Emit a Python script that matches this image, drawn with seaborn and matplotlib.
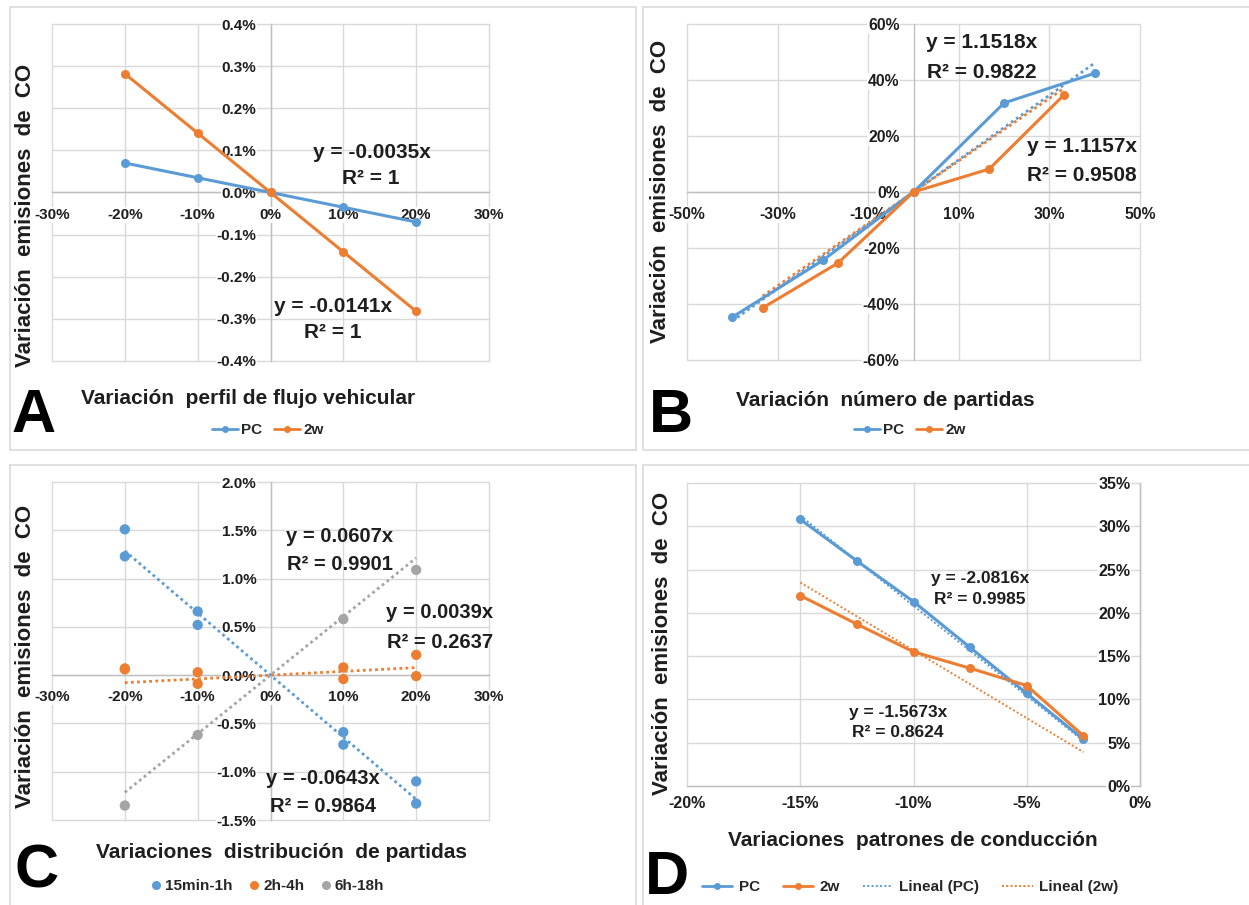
import matplotlib
matplotlib.use("Agg")
import numpy as np
import pandas as pd
import seaborn as sns
import matplotlib.pyplot as plt
from matplotlib.lines import Line2D
from matplotlib.patches import Rectangle

# ---------------- data ----------------
# A: variation of the vehicle flow profile
flujo_x = [-20, -10, 0, 10, 20]
flujo_pc = [0.070, 0.035, 0.0, -0.035, -0.070]
flujo_2w = [0.282, 0.141, 0.0, -0.141, -0.282]
flujo_eq = ["y = -0.0035x", "y = -0.0141x"]
flujo_r2 = ["R² = 1", "R² = 1"]

# B: variation of the number of trips
partidas_x_pc = [-40, -20, 0, 20, 40]
partidas_pc = [-44.7, -24.4, 0.0, 31.8, 42.4]
partidas_x_2w = [-33.3, -16.7, 0, 16.7, 33.3]
partidas_2w = [-41.4, -25.4, 0.0, 8.2, 34.8]
partidas_slopes = [1.1518, 1.1157]
partidas_r2 = [0.9822, 0.9508]

# C: variation of the trip distribution (two runs per group)
dist_x = [-20, -10, 10, 20]
dist_15min_a = [1.51, 0.66, -0.59, -1.10]
dist_15min_b = [1.23, 0.52, -0.72, -1.33]
dist_2h_a = [0.07, 0.03, 0.08, 0.21]
dist_2h_b = [0.06, -0.09, -0.04, -0.01]
dist_6h_a = [-1.35, -0.62, 0.58, 1.09]
dist_groups = ["15min-1h", "2h-4h", "6h-18h"]
dist_slopes = [-0.0643, 0.0039, 0.0607]
dist_r2 = [0.9864, 0.2637, 0.9901]

# D: variation of driving patterns
cond_x = [-15, -12.5, -10, -7.5, -5, -2.5]
cond_pc = [30.8, 26.0, 21.3, 16.0, 10.7, 5.4]
cond_2w = [22.0, 18.7, 15.5, 13.6, 11.6, 5.8]
cond_slopes = [-2.0816, -1.5673]
cond_r2 = [0.9985, 0.8624]

series_names = ["PC", "2w"]
y_title = "Variación  emisiones  de  CO"

# ---------------- style ----------------
W, H = 1249, 905
sns.set_theme(style="white")
plt.rcParams["font.family"] = ["Liberation Sans", "DejaVu Sans"]
plt.rcParams["font.weight"] = "bold"

BLUE, ORANGE, GRAY = "#5B9BD5", "#ED7D31", "#A5A5A5"
GRID, AXIS, INK = "#D9D9D9", "#BFBFBF", "#1E1E1E"
TITLE_FS, YTITLE_FS, LETTER_FS = 15, 16, 44

fig = plt.figure(figsize=(W / 100, H / 100), dpi=100)
fig.patch.set_facecolor("white")


def fx(x):
    return x / W


def fy(y):
    return 1 - y / H


def add_axes(x0, x1, y0, y1):
    return fig.add_axes([fx(x0), fy(y1), (x1 - x0) / W, (y1 - y0) / H])


def panel_frame(x0, y0, x1, y1):
    fig.patches.append(Rectangle((fx(x0), fy(y1)), (x1 - x0) / W, (y1 - y0) / H,
                                 transform=fig.transFigure, fill=False,
                                 edgecolor="#DADADA", lw=1.2, zorder=0))


def style_axes(ax, xlim, ylim, xticks, yticks, xfmt, yfmt, xpad, ypad, size):
    ax.set_xlim(xlim)
    ax.set_ylim(ylim)
    ax.grid(False)
    ax.set_xlabel("")
    ax.set_ylabel("")
    for v in yticks:
        ax.axhline(v, color=GRID, lw=1, zorder=0.2, clip_on=False)
    for v in xticks:
        ax.axvline(v, color=GRID, lw=1, zorder=0.2, clip_on=False)
    ax.set_axisbelow(True)
    for s in ["top", "right"]:
        ax.spines[s].set_visible(False)
    ax.spines["left"].set_position(("data", 0))
    ax.spines["bottom"].set_position(("data", 0))
    for s in ["left", "bottom"]:
        ax.spines[s].set_color(AXIS)
        ax.spines[s].set_linewidth(1)
        ax.spines[s].set_zorder(0.3)
    ax.set_xticks(xticks)
    ax.set_yticks(yticks)
    ax.set_xticklabels([xfmt(v) for v in xticks])
    ax.set_yticklabels([yfmt(v) for v in yticks])
    ax.tick_params(length=0, labelsize=size, labelcolor=INK)
    ax.tick_params(axis="x", pad=xpad)
    ax.tick_params(axis="y", pad=ypad)
    for lab in ax.get_xticklabels() + ax.get_yticklabels():
        lab.set_fontweight("bold")
        lab.set_bbox(dict(facecolor="white", edgecolor="none", pad=0.6))
    ax.patch.set_alpha(0)


def ftext(x, y, s, size, color=INK, **kw):
    fig.text(fx(x), fy(y), s, fontsize=size, fontweight="bold", color=color,
             ha="center", va="center", **kw)


def line_handle(color):
    return Line2D([], [], color=color, lw=2, marker="o", markersize=5,
                  markeredgewidth=0)


def series_frame(xa, ya, xb, yb):
    return pd.DataFrame({
        "x": list(xa) + list(xb),
        "y": list(ya) + list(yb),
        "serie": [series_names[0]] * len(xa) + [series_names[1]] * len(xb),
    })


def legend(ax, handles, labels, cx, cy, **kw):
    opts = dict(handlelength=1.7, handletextpad=0.2, columnspacing=0.8)
    opts.update(kw)
    ax.legend(handles, labels, loc="center", bbox_to_anchor=(fx(cx), fy(cy)),
              bbox_transform=fig.transFigure, ncol=len(labels), frameon=False,
              borderaxespad=0, prop=dict(weight="bold", size=11), **opts)


line_kw = dict(hue="serie", palette=[BLUE, ORANGE], marker="o", markersize=6.5,
               markeredgewidth=0, linewidth=2.2, legend=False, sort=False,
               estimator=None, zorder=3)

pct0 = lambda v: f"{v + 0:.0f}%"
pct1 = lambda v: f"{v + 0:.1f}%"
dotted = (0, (1, 1.2))

# ---------------- panel frames ----------------
panel_frame(10, 7, 636, 450)
panel_frame(643, 7, 1260, 450)
panel_frame(10, 465, 636, 915)
panel_frame(643, 465, 1260, 915)

# ---------------- A ----------------
axA = add_axes(52, 489, 24, 361)
dfA = series_frame(flujo_x, flujo_pc, flujo_x, flujo_2w)
sns.lineplot(data=dfA, x="x", y="y", ax=axA, **line_kw)
style_axes(axA, (-30, 30), (-0.4, 0.4), np.arange(-30, 31, 10),
           np.round(np.arange(-0.4, 0.41, 0.1), 1), pct0, pct1,
           xpad=11, ypad=10, size=11)
ftext(372, 152, flujo_eq[0], 15)
ftext(371, 179, flujo_r2[0], 15)
ftext(333, 307, flujo_eq[1], 15)
ftext(333, 333, flujo_r2[1], 15)
ftext(248, 398, "Variación  perfil de flujo vehicular", TITLE_FS)
ftext(26, 215, y_title, YTITLE_FS, rotation=90)
ftext(34, 416, "A", LETTER_FS, color="black")
legend(axA, [line_handle(BLUE), line_handle(ORANGE)], series_names, 268, 430)

# ---------------- B ----------------
axB = add_axes(687, 1140, 24, 360)
dfB = series_frame(partidas_x_pc, partidas_pc, partidas_x_2w, partidas_2w)
sns.lineplot(data=dfB, x="x", y="y", ax=axB, **line_kw)
for xs, k, c in [(partidas_x_pc, partidas_slopes[0], BLUE),
                 (partidas_x_2w, partidas_slopes[1], ORANGE)]:
    xr = np.array([min(xs), max(xs)])
    axB.plot(xr, k * xr, ls=dotted, color=c, lw=2, zorder=2.8)
style_axes(axB, (-50, 50), (-60, 60), np.arange(-50, 51, 20),
           np.arange(-60, 61, 20), pct0, pct0, xpad=11, ypad=10, size=11.3)
ftext(982, 43, f"y = {partidas_slopes[0]:.4f}x", 15)
ftext(982, 72, f"R² = {partidas_r2[0]:.4f}", 15)
ftext(1082, 147, f"y = {partidas_slopes[1]:.4f}x", 15)
ftext(1082, 175, f"R² = {partidas_r2[1]:.4f}", 15)
ftext(885, 400, "Variación  número de partidas", TITLE_FS)
ftext(660, 191, y_title, YTITLE_FS, rotation=90)
ftext(671, 416, "B", LETTER_FS, color="black")
legend(axB, [line_handle(BLUE), line_handle(ORANGE)], series_names, 910, 430)

# ---------------- C ----------------
axC = add_axes(52, 489, 482, 820)
runs = [(dist_groups[0], dist_15min_a), (dist_groups[0], dist_15min_b),
        (dist_groups[1], dist_2h_a), (dist_groups[1], dist_2h_b),
        (dist_groups[2], dist_6h_a)]
dfC = pd.DataFrame({
    "x": sum([list(dist_x) for _ in runs], []),
    "y": sum([list(v) for _, v in runs], []),
    "grupo": sum([[g] * len(dist_x) for g, _ in runs], []),
})
sns.scatterplot(data=dfC, x="x", y="y", hue="grupo", hue_order=dist_groups,
                palette=[BLUE, ORANGE, GRAY], s=55, linewidth=0, legend=False,
                ax=axC, zorder=3)
for k, c in zip(dist_slopes, [BLUE, ORANGE, GRAY]):
    xr = np.array([min(dist_x), max(dist_x)])
    axC.plot(xr, k * xr, ls=dotted, color=c, lw=2, zorder=2.8)
style_axes(axC, (-30, 30), (-1.5, 2.0), np.arange(-30, 31, 10),
           np.round(np.arange(-1.5, 2.01, 0.5), 1), pct0, pct1,
           xpad=11, ypad=10, size=11)
ftext(340, 537, f"y = {dist_slopes[2]:.4f}x", 14.5)
ftext(340, 565, f"R² = {dist_r2[2]:.4f}", 14.5)
ftext(440, 613, f"y = {dist_slopes[1]:.4f}x", 14.5)
ftext(440, 642, f"R² = {dist_r2[1]:.4f}", 14.5)
ftext(323, 778, f"y = {dist_slopes[0]:.4f}x", 14.5)
ftext(323, 806, f"R² = {dist_r2[0]:.4f}", 14.5)
ftext(282, 852, "Variaciones  distribución  de partidas", TITLE_FS)
ftext(26, 656, y_title, YTITLE_FS, rotation=90)
ftext(37, 872, "C", LETTER_FS, color="black")
dot = lambda c: Line2D([], [], ls="none", marker="o", markersize=6.5,
                       markeredgewidth=0, color=c)
legend(axC, [dot(BLUE), dot(ORANGE), dot(GRAY)], dist_groups, 267, 886,
       handlelength=0.8, columnspacing=1.0)

# ---------------- D ----------------
axD = add_axes(687, 1140, 483, 786)
dfD = series_frame(cond_x, cond_pc, cond_x, cond_2w)
sns.lineplot(data=dfD, x="x", y="y", ax=axD, **line_kw)
for k, c in zip(cond_slopes, [BLUE, ORANGE]):
    xr = np.array([min(cond_x), max(cond_x)])
    axD.plot(xr, k * xr, ls=dotted, color=c, lw=1.4, zorder=3.5)
style_axes(axD, (-20, 0), (0, 35), np.arange(-20, 1, 5), np.arange(0, 36, 5),
           pct0, pct0, xpad=7, ypad=7, size=11.5)
ftext(980, 578, f"y = {cond_slopes[0]:.4f}x", 12.5)
ftext(980, 599, f"R² = {cond_r2[0]:.4f}", 12.5)
ftext(898, 712, f"y = {cond_slopes[1]:.4f}x", 12.5)
ftext(898, 732, f"R² = {cond_r2[1]:.4f}", 12.5)
ftext(913, 840, "Variaciones  patrones de conducción", TITLE_FS)
ftext(663, 643, y_title, YTITLE_FS, rotation=90)
ftext(667, 878, "D", LETTER_FS, color="black")
trend = lambda c: Line2D([], [], color=c, lw=1.4, ls=dotted)
legend(axD, [line_handle(BLUE), line_handle(ORANGE), trend(BLUE), trend(ORANGE)],
       series_names + ["Lineal (PC)", "Lineal (2w)"], 910, 887,
       handlelength=2.0, handletextpad=0.4, columnspacing=1.5)

fig.savefig("out.png", dpi=100, facecolor="white")
